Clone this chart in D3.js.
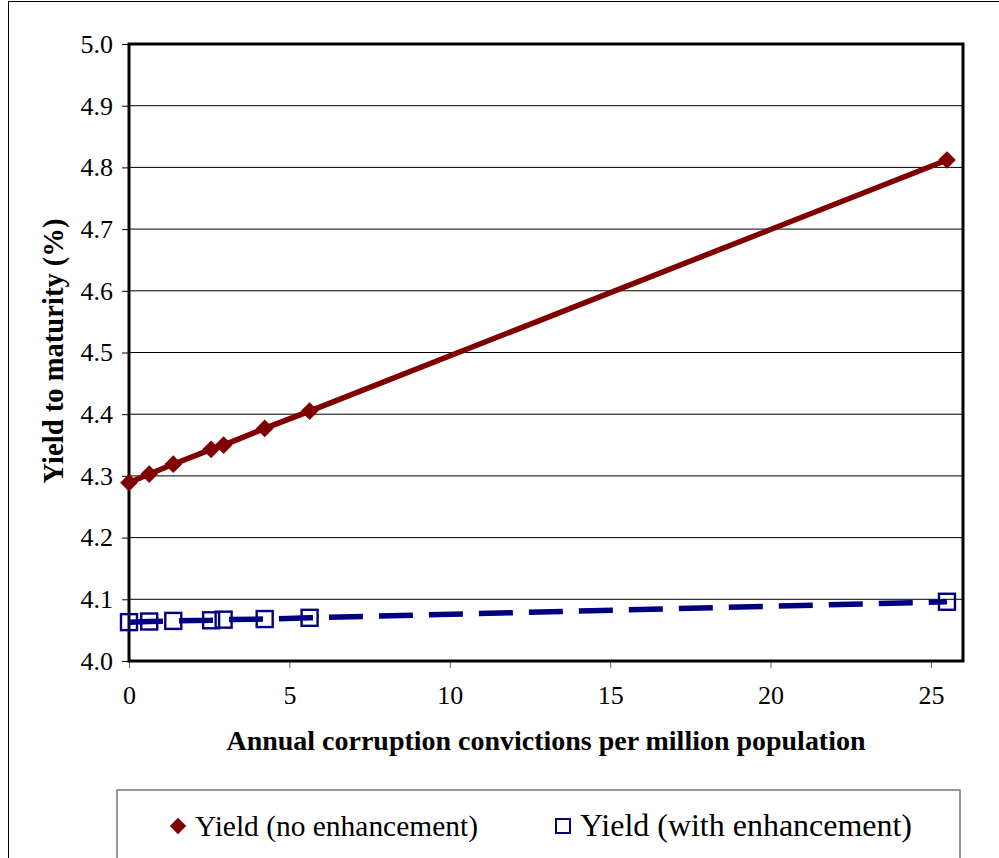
<!DOCTYPE html>
<html><head><meta charset="utf-8">
<script src="https://cdn.jsdelivr.net/npm/d3@7/dist/d3.min.js"></script>
<style>body{margin:0;background:#fff}svg{display:block}</style>
</head><body>
<script>
const convictions = [0, 0.63, 1.38, 2.56, 2.95, 4.23, 5.63, 25.5];
const yieldNoEnh = [4.289, 4.303, 4.319, 4.343, 4.350, 4.377, 4.405, 4.812];
const yieldWithEnh = [4.063, 4.064, 4.065, 4.066, 4.067, 4.068, 4.070, 4.096];
const xTicks = [0, 5, 10, 15, 20, 25];
const yTicks = [4.0, 4.1, 4.2, 4.3, 4.4, 4.5, 4.6, 4.7, 4.8, 4.9, 5.0];
const seriesNames = ["Yield (no enhancement)", "Yield (with enhancement)"];
const xTitle = "Annual corruption convictions per million population";
const yTitle = "Yield to maturity (%)";

const FONT = '"Liberation Serif", "Times New Roman", Times, serif';
const W = 999, H = 858;
const svg = d3.select("body").append("svg").attr("width", W).attr("height", H)
  .style("font-family", FONT);
const L = 129, R = 963, T = 44, B = 661;
const x = d3.scaleLinear().domain([0, 26]).range([L, R]);
const y = d3.scaleLinear().domain([4.0, 5.0]).range([B, T]);

function fit(sel, target) {
  const n = sel.node();
  const fs = parseFloat(sel.attr("font-size"));
  const w = n.getComputedTextLength();
  if (w > 0) sel.attr("font-size", (fs * target / w).toFixed(2));
}

// outer chart border
svg.append("rect").attr("x", 8.5).attr("y", 1.5).attr("width", 1000).attr("height", 900)
  .attr("fill", "none").attr("stroke", "#000").attr("stroke-width", 1);

// gridlines
svg.append("g").selectAll("line").data(yTicks).join("line")
  .attr("x1", L).attr("x2", R).attr("y1", d => y(d)).attr("y2", d => y(d))
  .attr("stroke", "#000").attr("stroke-width", 1);

// y axis
const yAxis = d3.axisLeft(y).tickValues(yTicks).tickFormat(d3.format(".1f")).tickSize(7).tickPadding(9);
const gy = svg.append("g").attr("transform", `translate(${L},0)`).call(yAxis)
  .attr("font-family", null).attr("font-size", null);
gy.select(".domain").remove();
gy.selectAll("line").attr("stroke", "#000");
gy.selectAll("text").attr("font-size", 26).attr("fill", "#000").style("font-family", FONT);

// x axis
const xAxis = d3.axisBottom(x).tickValues(xTicks).tickSize(7).tickPadding(18);
const gx = svg.append("g").attr("transform", `translate(0,${B})`).call(xAxis)
  .attr("font-family", null).attr("font-size", null);
gx.select(".domain").remove();
gx.selectAll("line").attr("stroke", "#666");
gx.selectAll("text").attr("font-size", 26).attr("fill", "#000").style("font-family", FONT);

// plot border
svg.append("rect").attr("x", L).attr("y", T).attr("width", R - L).attr("height", B - T)
  .attr("fill", "none").attr("stroke", "#000").attr("stroke-width", 3);

const line = d3.line().x(d => x(d[0])).y(d => y(d[1]));
const red = "#800000", navy = "#000080";
const d1 = convictions.map((c, i) => [c, yieldNoEnh[i]]);
const d2 = convictions.map((c, i) => [c, yieldWithEnh[i]]);

svg.append("path").datum(d2).attr("d", line).attr("fill", "none").attr("stroke", navy)
  .attr("stroke-width", 5.5).attr("stroke-dasharray", "34,16");
svg.append("path").datum(d1).attr("d", line).attr("fill", "none").attr("stroke", red)
  .attr("stroke-width", 5.5);

const diamond = d3.symbol().type(d3.symbolDiamond2).size(200);
svg.append("g").selectAll("path").data(d1).join("path")
  .attr("d", diamond).attr("transform", d => `translate(${x(d[0])},${y(d[1])})`)
  .attr("fill", red);
svg.append("g").selectAll("rect").data(d2).join("rect")
  .attr("x", d => x(d[0]) - 8).attr("y", d => y(d[1]) - 8).attr("width", 16).attr("height", 16)
  .attr("fill", "none").attr("stroke", navy).attr("stroke-width", 2.4);

// axis titles
const xt = svg.append("text").attr("x", 546).attr("y", 750).attr("text-anchor", "middle")
  .attr("font-size", 26).attr("font-weight", "bold").style("font-family", FONT).text(xTitle);
fit(xt, 639);
const yt = svg.append("text").attr("transform", "translate(63,351) rotate(-90)").attr("text-anchor", "middle")
  .attr("font-size", 26).attr("font-weight", "bold").style("font-family", FONT).text(yTitle);
fit(yt, 265);

// legend
svg.append("rect").attr("x", 117).attr("y", 790).attr("width", 843).attr("height", 120)
  .attr("fill", "#fff").attr("stroke", "#777").attr("stroke-width", 1.5);
const lg = svg.append("g");
lg.append("path").attr("d", d3.symbol().type(d3.symbolDiamond2).size(170)())
  .attr("transform", "translate(178,826)").attr("fill", red);
const l1 = lg.append("text").attr("x", 195).attr("y", 836).attr("font-size", 26).style("font-family", FONT).text(seriesNames[0]);
fit(l1, 283);
lg.append("rect").attr("x", 556).attr("y", 819).attr("width", 14).attr("height", 14)
  .attr("fill", "none").attr("stroke", navy).attr("stroke-width", 2);
const l2 = lg.append("text").attr("x", 580).attr("y", 836).attr("font-size", 26).style("font-family", FONT).text(seriesNames[1]);
fit(l2, 332);
</script>
</body></html>
